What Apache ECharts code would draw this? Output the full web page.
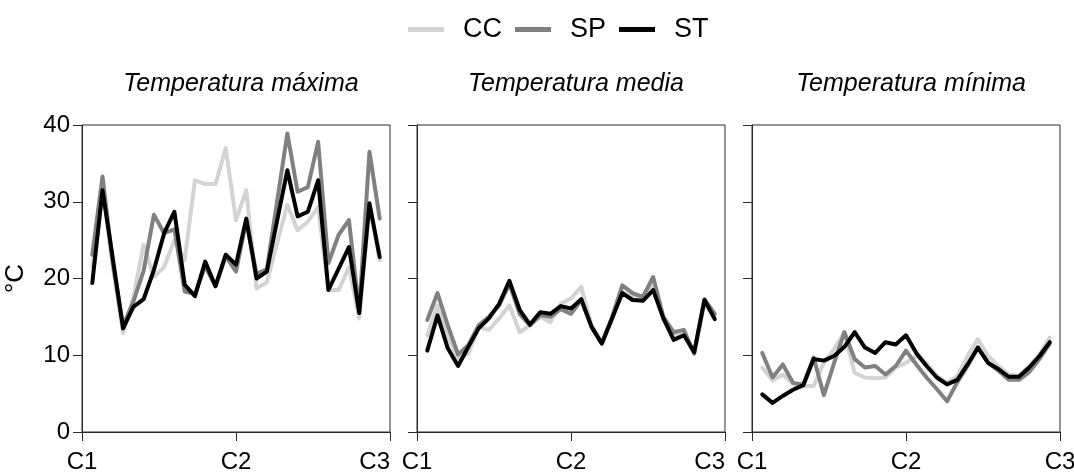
<!DOCTYPE html>
<html>
<head>
<meta charset="utf-8">
<script src="https://cdn.jsdelivr.net/npm/echarts@6/dist/echarts.min.js"></script>
<style>
html,body{margin:0;padding:0;background:#fff;}
#chart{width:1074px;height:472px;}
</style>
</head>
<body>
<div id="chart"></div>
<script>
// x positions (days) within each panel; C1 = 0, C2 = 15, C3 = 30
const xPos = [1,2,3,4,5,6,7,8,9,10,11,12,13,14,15,16,17,18,19,20,21,22,23,24,25,26,27,28,29];
const xTickLabels = {0: 'C1', 15: 'C2', 30: 'C3'};
const seriesNames = ['CC', 'SP', 'ST'];
const panelTitles = ['Temperatura máxima', 'Temperatura media', 'Temperatura mínima'];
const yTicks = [0, 10, 20, 30, 40];

// Temperatura máxima
const maxCC = [21.5, 32.0, 21.5, 12.9, 17.5, 24.4, 20.2, 21.5, 25.0, 22.4, 32.8, 32.3, 32.3, 37.0, 27.6, 31.5, 18.7, 19.5, 24.6, 29.6, 26.3, 27.4, 29.3, 18.5, 18.5, 21.5, 14.8, 29.5, 22.4];
const maxSP = [23.1, 33.3, 22.0, 13.8, 17.0, 21.0, 28.3, 25.9, 26.4, 18.3, 18.0, 21.6, 19.0, 22.9, 20.9, 27.5, 20.6, 21.2, 30.0, 38.9, 31.3, 31.9, 37.8, 22.0, 25.7, 27.6, 15.8, 36.5, 27.8];
const maxST = [19.4, 31.5, 22.6, 13.5, 16.3, 17.3, 21.1, 25.9, 28.7, 19.2, 17.7, 22.2, 19.0, 23.1, 21.8, 27.8, 20.0, 20.9, 27.5, 34.1, 28.1, 28.7, 32.8, 18.5, 21.3, 24.1, 15.5, 29.8, 22.8];

// Temperatura media
const medCC = [12.6, 16.5, 12.5, 9.6, 10.2, 13.7, 13.3, 14.8, 16.5, 13.0, 13.9, 15.0, 14.3, 16.7, 17.4, 18.9, 13.9, 11.7, 14.8, 18.3, 17.6, 17.6, 19.1, 14.6, 12.6, 12.8, 10.4, 16.7, 15.0];
const medSP = [14.6, 18.1, 13.9, 10.1, 11.3, 13.9, 15.0, 16.5, 19.3, 15.4, 13.9, 15.2, 15.0, 16.0, 15.4, 17.2, 13.7, 11.6, 15.0, 19.1, 18.1, 17.6, 20.2, 15.0, 13.0, 13.3, 10.2, 17.3, 15.4];
const medST = [10.6, 15.2, 10.9, 8.6, 11.1, 13.5, 14.8, 16.7, 19.7, 15.9, 14.0, 15.6, 15.4, 16.4, 16.1, 17.3, 13.7, 11.5, 14.8, 18.1, 17.2, 17.1, 18.5, 14.8, 12.0, 12.6, 10.4, 17.2, 14.7];

// Temperatura mínima
const minCC = [8.4, 6.7, 7.5, 6.2, 6.0, 6.0, 9.0, 10.8, 13.0, 7.7, 7.1, 7.0, 7.1, 8.4, 9.0, 9.9, 9.0, 7.3, 6.4, 7.3, 9.9, 12.1, 9.9, 8.6, 7.5, 7.3, 8.6, 10.1, 12.3];
const minSP = [10.3, 7.1, 8.8, 6.4, 6.2, 9.7, 4.8, 9.0, 13.0, 9.5, 8.4, 8.6, 7.5, 8.6, 10.6, 8.8, 7.1, 5.6, 4.0, 6.5, 8.6, 11.0, 9.0, 8.0, 6.8, 6.8, 7.8, 9.5, 11.5];
const minST = [4.9, 3.8, 4.7, 5.5, 6.1, 9.5, 9.3, 9.9, 11.1, 13.0, 11.0, 10.3, 11.7, 11.4, 12.6, 10.3, 8.6, 7.1, 6.2, 6.8, 8.8, 11.0, 9.0, 8.2, 7.2, 7.2, 8.4, 9.9, 11.7];

const panelData = [
  [maxCC, maxSP, maxST],
  [medCC, medSP, medST],
  [minCC, minSP, minST]
];
const colors = ['#d3d3d3', '#808080', '#000000'];

const FONT = 'Liberation Sans, Arial, sans-serif';
const AX = '#2b2b2b';
const gridLefts = [82, 417, 752];
const gridW = 308, gridTop = 125, gridH = 307;

const grids = gridLefts.map(l => ({
  left: l, top: gridTop, width: gridW, height: gridH,
  show: true, borderColor: AX, borderWidth: 1, backgroundColor: 'transparent',
  containLabel: false, outerBoundsMode: 'none'
}));

const xAxes = gridLefts.map((l, g) => ({
  type: 'value', gridIndex: g, min: 0, max: 30, interval: 15,
  axisLine: {show: true, lineStyle: {color: AX, width: 1}},
  axisTick: {show: true, length: 9, lineStyle: {color: AX, width: 1}},
  splitLine: {show: false},
  axisLabel: {
    show: true, margin: 18, fontSize: 24, color: '#000', fontFamily: FONT,
    alignMaxLabel: g < 2 ? 'right' : 'center',
    formatter: v => xTickLabels[v] || ''
  }
}));

const yAxes = gridLefts.map((l, g) => ({
  type: 'value', gridIndex: g, min: 0, max: 40, interval: 10,
  name: g === 0 ? '°C' : '',
  nameLocation: 'middle', nameRotate: 90, nameGap: 53,
  nameTextStyle: {fontSize: 26, color: '#000', fontFamily: FONT},
  axisLine: {show: true, lineStyle: {color: AX, width: 1}},
  axisTick: {show: true, length: 9, lineStyle: {color: AX, width: 1}},
  splitLine: {show: false},
  axisLabel: {
    show: g === 0, margin: 12, fontSize: 24, color: '#000', fontFamily: FONT,
    formatter: v => (yTicks.indexOf(v) >= 0 ? String(v) : '')
  }
}));

const series = [];
panelData.forEach((arrs, g) => {
  arrs.forEach((vals, k) => {
    series.push({
      name: seriesNames[k], type: 'line', xAxisIndex: g, yAxisIndex: g,
      data: xPos.map((x, i) => [x, vals[i]]),
      symbol: 'none', smooth: false, z: 2 + k,
      lineStyle: {color: colors[k], width: 4, cap: 'round', join: 'round'},
      itemStyle: {color: colors[k]},
      emphasis: {disabled: true}
    });
  });
});

const titles = panelTitles.map((t, g) => ({
  text: t, left: gridLefts[g] + gridW / 2, top: 67, textAlign: 'center',
  textStyle: {fontSize: 25, fontStyle: 'italic', fontWeight: 'normal', color: '#000', fontFamily: FONT}
}));

const chart = echarts.init(document.getElementById('chart'), null, {renderer: 'canvas'});
chart.setOption({
  animation: false,
  backgroundColor: '#fff',
  title: titles,
  legend: {
    data: seriesNames, left: 403, top: 11, orient: 'horizontal',
    icon: 'rect', itemWidth: 36, itemHeight: 5, itemGap: 13,
    textStyle: {fontSize: 27, color: '#000', fontFamily: FONT, padding: [0, 0, 0, 14]},
    selectedMode: false
  },
  grid: grids,
  xAxis: xAxes,
  yAxis: yAxes,
  series: series
});
</script>
</body>
</html>
